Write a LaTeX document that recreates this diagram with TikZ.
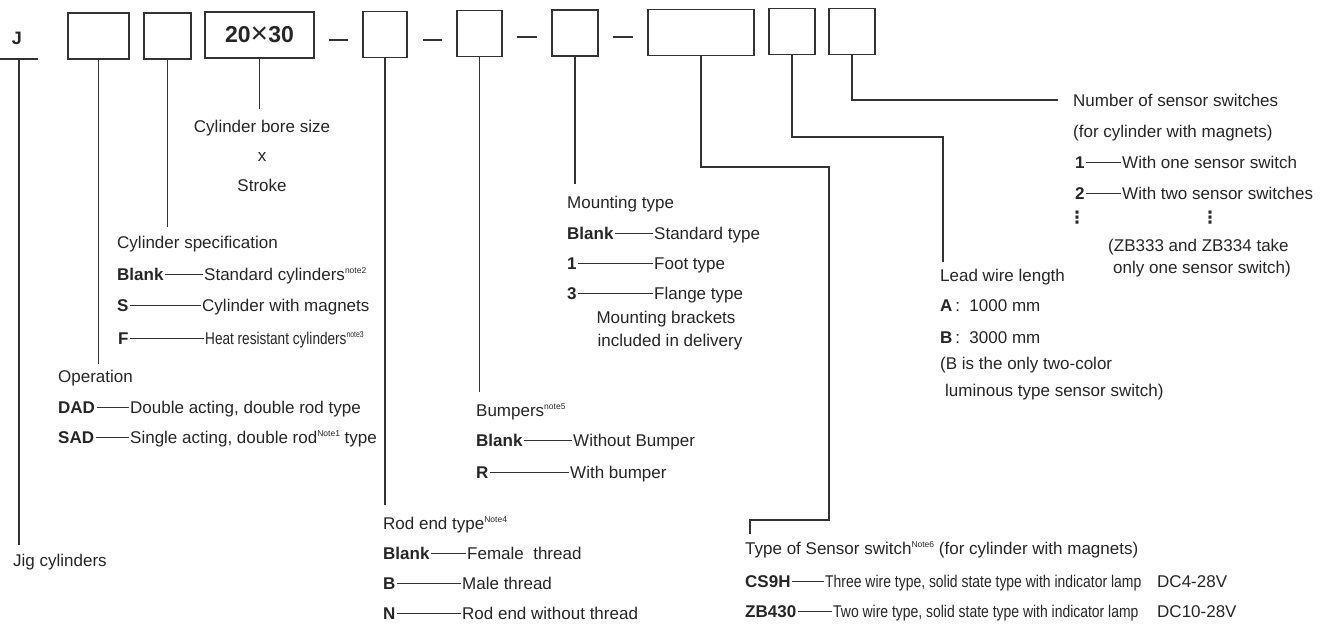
\documentclass[tikz,border=0pt]{standalone}
\usepackage{fontspec}
\setmainfont{Liberation Sans}
\newfontfamily\dvfont{DejaVu Sans}
\usepackage{graphicx}
\usetikzlibrary{calc}
\definecolor{ink}{HTML}{262626}
\definecolor{wire}{HTML}{333333}
\newcommand\nte[1]{\raisebox{6.5pt}{\fontsize{8.5}{8.5}\selectfont #1}}
\begin{document}
\begin{tikzpicture}[x=1pt,y=-1pt,
  lab/.style={font=\fontsize{17}{21}\selectfont, text=ink, inner sep=0pt, anchor=west, text height=12pt, text depth=0pt},
  labc/.style={lab, anchor=center},
  code/.style={lab, font=\fontsize{17}{21}\selectfont\bfseries},
  box/.style={draw=wire, line width=1.7pt, inner sep=0pt, minimum height=46pt},
  conn/.style={draw=wire, line width=1.5pt},
  tie/.style={draw=wire, line width=0.8pt, shorten <=1.5pt, shorten >=1pt},
  sep/.style={draw=wire, line width=2.6pt}]
\useasboundingbox[fill=white] (0,0) rectangle (1327,624);

% code boxes
\node[font=\fontsize{18}{20}\selectfont\bfseries, text=ink, inner sep=0pt] (J) at (17,38) {J};
\node[box, minimum width=61pt] (b1) at (98.5,36) {};
\node[box, minimum width=47pt] (b2) at (167.5,36) {};
\node[box, minimum width=109pt, font=\fontsize{23}{25}\selectfont\bfseries, text=ink] (b3) at (259.5,35) {20\raisebox{-1.5pt}{\fontsize{30}{30}\selectfont\mdseries ×}30};
\node[box, minimum width=44pt] (b4) at (385,34.5) {};
\node[box, minimum width=45pt] (b5) at (479.5,33.5) {};
\node[box, minimum width=46pt] (b6) at (575,33) {};
\node[box, minimum width=106pt] (b7) at (701,32.5) {};
\node[box, minimum width=46pt] (b8) at (792,31.5) {};
\node[box, minimum width=46pt] (b9) at (852,31.5) {};

% separators
\coordinate (s1a) at (329,40); \coordinate (s1b) at (348,40);
\coordinate (s2a) at (423,40); \coordinate (s2b) at (442,40);
\coordinate (s3a) at (517,37); \coordinate (s3b) at (537,37);
\coordinate (s4a) at (613,37); \coordinate (s4b) at (633,37);
\draw[sep] (s1a) -- (s1b);
\draw[sep] (s2a) -- (s2b);
\draw[sep] (s3a) -- (s3b);
\draw[sep] (s4a) -- (s4b);

% J underline
\coordinate (jla) at (0,59); \coordinate (jlb) at (38,59); \coordinate (jl) at (19,59);
\draw[conn] (jla) -- (jlb);

% Jig
\node[lab] (jig) at (13,560) {Jig cylinders};

% Cylinder bore
\node[labc] (cb) at (262,126) {Cylinder bore size};
\node[labc] (cbx) at (262,155) {x};
\node[labc] (cbs) at (262,185) {Stroke};

% Cylinder specification
\node[lab] (cs) at (117,242) {Cylinder specification};
\node[code] (cs1) at (117,274) {Blank};
\node[lab] (cs1d) at (204,274) {Standard cylinders\nte{note2}};
\node[code] (cs2) at (117,305) {S};
\node[lab] (cs2d) at (202,305) {Cylinder with magnets};
\node[code] (cs3) at (118,338) {F};
\node[lab] (cs3d) at (205,338) {\scalebox{0.8}[1]{Heat resistant cylinders\nte{note3}}};

% Operation
\node[lab] (op) at (58,376) {Operation};
\node[code] (op1) at (58,407) {DAD};
\node[lab] (op1d) at (130,407) {Double acting, double rod type};
\node[code] (op2) at (58,437) {SAD};
\node[lab] (op2d) at (130,437) {Single acting, double rod\nte{Note1} type};

% Rod end
\node[lab] (re) at (383,523) {Rod end type\nte{Note4}};
\node[code] (re1) at (383,553) {Blank};
\node[lab] (re1d) at (467,553) {Female\ \ thread};
\node[code] (re2) at (383,583) {B};
\node[lab] (re2d) at (462,583) {Male thread};
\node[code] (re3) at (383,613) {N};
\node[lab] (re3d) at (462,613) {Rod end without thread};

% Bumpers
\node[lab] (bu) at (476,410) {Bumpers\nte{note5}};
\node[code] (bu1) at (476,440) {Blank};
\node[lab] (bu1d) at (573,440) {Without Bumper};
\node[code] (bu2) at (476,472) {R};
\node[lab] (bu2d) at (570,472) {With bumper};

% Mounting
\node[lab] (mt) at (567,202) {Mounting type};
\node[code] (mt1) at (567,233) {Blank};
\node[lab] (mt1d) at (654,233) {Standard type};
\node[code] (mt2) at (567,263) {1};
\node[lab] (mt2d) at (654,263) {Foot type};
\node[code] (mt3) at (567,293) {3};
\node[lab] (mt3d) at (654,293) {Flange type};
\node[labc] (mtb1) at (666,317) {Mounting brackets};
\node[labc] (mtb2) at (670,340) {included in delivery};

% Sensor type
\node[lab] (st) at (745,548) {Type of Sensor switch\nte{Note6} (for cylinder with magnets)};
\node[code] (st1) at (745,581) {CS9H};
\node[lab] (st1d) at (825,581) {\scalebox{0.82}[1]{Three wire type, solid state type with indicator lamp}};
\node[lab] (st1v) at (1157,581) {DC4-28V};
\node[code] (st2) at (745,611) {ZB430};
\node[lab] (st2d) at (833,611) {\scalebox{0.82}[1]{Two wire type, solid state type with indicator lamp}};
\node[lab] (st2v) at (1157,611) {DC10-28V};

% Lead wire
\node[lab] (lw) at (940,275) {Lead wire length};
\node[lab] (lwa) at (940,305) {\textbf{A}\,:\ \ 1000 mm};
\node[lab] (lwb) at (940,337) {\textbf{B}\,:\ \ 3000 mm};
\node[lab] (lwc) at (940,363) {(B is the only two-color};
\node[lab] (lwd) at (945,390) {luminous type sensor switch)};

% Number of sensor switches
\node[lab] (nss) at (1073,100) {Number of sensor switches};
\node[lab] (nssb) at (1073,131) {(for cylinder with magnets)};
\node[code] (n1) at (1075,162) {1};
\node[lab] (n1d) at (1122,162) {With one sensor switch};
\node[code] (n2) at (1075,193) {2};
\node[lab] (n2d) at (1122,193) {With two sensor switches};
\node[text=ink, inner sep=0pt, font=\fontsize{17}{17}\selectfont\dvfont\bfseries] (nv1) at (1077,218) {⋮};
\node[text=ink, inner sep=0pt, font=\fontsize{17}{17}\selectfont\dvfont\bfseries] (nv2) at (1210,218) {⋮};
\node[lab] (nz1) at (1108,245) {(ZB333 and ZB334 take};
\node[lab] (nz2) at (1113,267) {only one sensor switch)};

% ties
\draw[tie] (cs1.east) -- (cs1d.west);
\draw[tie] (cs2.east) -- (cs2d.west);
\draw[tie] (cs3.east) -- (cs3d.west);
\draw[tie] (op1.east) -- (op1d.west);
\draw[tie] (op2.east) -- (op2d.west);
\draw[tie] (re1.east) -- (re1d.west);
\draw[tie] (re2.east) -- (re2d.west);
\draw[tie] (re3.east) -- (re3d.west);
\draw[tie] (bu1.east) -- (bu1d.west);
\draw[tie] (bu2.east) -- (bu2d.west);
\draw[tie] (mt1.east) -- (mt1d.west);
\draw[tie] (mt2.east) -- (mt2d.west);
\draw[tie] (mt3.east) -- (mt3d.west);
\draw[tie] (st1.east) -- (st1d.west);
\draw[tie] (st2.east) -- (st2d.west);
\draw[tie] (n1.east) -- (n1d.west);
\draw[tie] (n2.east) -- (n2d.west);

% connectors
\draw[conn, shorten >=9pt] (jl) -- (jl |- jig.north);
\draw[conn, shorten >=6pt] (b1.south) -- (b1.south |- op.north);
\draw[conn, shorten >=9pt] (b2.south) -- (b2.south |- cs.north);
\draw[conn, shorten >=11pt] (b3.south) -- (b3.south |- cb.north);
\draw[conn, shorten >=12pt] (b4.south) -- (b4.south |- re.north);
\draw[conn, shorten >=12pt] (b5.south) -- (b5.south |- bu.north);
\draw[conn, shorten >=12pt] (b6.south) -- (b6.south |- mt.north);
\coordinate (k7a) at (829,167);
\coordinate (k7b) at (829,520);
\coordinate (k7c) at (750,520);
\draw[conn, shorten >=8pt] (b7.south) |- (k7a) -- (k7b) -- (k7c) -- (k7c |- st.north);
\coordinate (k8a) at (943,137);
\draw[conn, shorten >=7pt] (b8.south) |- (k8a) -- (k8a |- lw.north);
\draw[conn, shorten >=15pt] (b9.south) |- (nss.west);
\end{tikzpicture}
\end{document}
